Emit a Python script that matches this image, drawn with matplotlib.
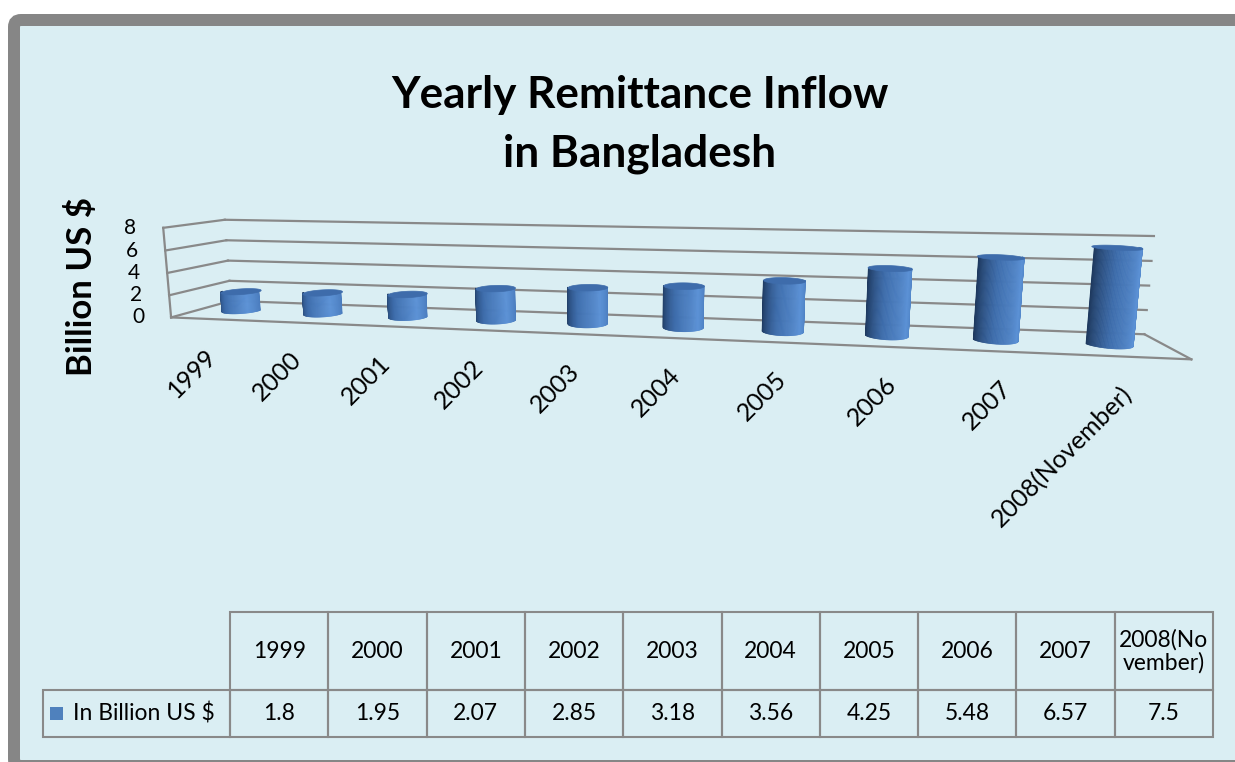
import numpy as np
import matplotlib
matplotlib.use("Agg")
import matplotlib.pyplot as plt
from matplotlib import transforms
from matplotlib.patches import FancyBboxPatch, Rectangle
from matplotlib.colors import LinearSegmentedColormap
from matplotlib.table import Table
from mpl_toolkits.mplot3d.art3d import Poly3DCollection

# ---------------- data ----------------
years = ["1999", "2000", "2001", "2002", "2003", "2004", "2005", "2006",
         "2007", "2008(November)"]
table_headers = ["1999", "2000", "2001", "2002", "2003", "2004", "2005",
                 "2006", "2007", "2008(No\nvember)"]
remittance = [1.8, 1.95, 2.07, 2.85, 3.18, 3.56, 4.25, 5.48, 6.57, 7.5]
value_labels = ["1.8", "1.95", "2.07", "2.85", "3.18", "3.56", "4.25",
                "5.48", "6.57", "7.5"]
z_ticks = [0, 2, 4, 6, 8]
series_name = "In Billion US $"
title_lines = ["Yearly Remittance Inflow", "in Bangladesh"]
axis_title = "Billion US $"

# ---------------- style ----------------
FONT = ["Lato", "DejaVu Sans"]
plt.rcParams["font.family"] = FONT
BG = "#DAEEF3"
FRAME = "#868686"
GRID = "#898989"
BLUE = "#4F81BD"
TOP_BLUE = "#3e6cab"

W, H = 1235, 762
fig = plt.figure(figsize=(W / 100, H / 100), dpi=100)
fig.patch.set_facecolor("white")

# background canvas in pixel units
bg = fig.add_axes([0, 0, 1, 1])
bg.set_xlim(0, W)
bg.set_ylim(H, 0)
bg.axis("off")
bg.add_patch(FancyBboxPatch((14, 20), 1400, 746,
                            boxstyle="round,pad=0,rounding_size=7",
                            fc=BG, ec=FRAME, lw=12 * 0.72, clip_on=False,
                            zorder=0))

# title and value-axis title
bg.text(640, 108, title_lines[0], ha="center", va="baseline",
        fontsize=31.8, fontweight="bold", color="black")
bg.text(640, 167, title_lines[1], ha="center", va="baseline",
        fontsize=31.8, fontweight="bold", color="black")
bg.text(82, 287, axis_title, rotation=90, ha="center", va="center",
        fontsize=25, fontweight="bold", color="black")

# ---------------- data table ----------------
tab_left, tab_right = 43, 1213
tab_top, tab_mid, tab_bottom = 612, 690, 737
label_w = 230 - tab_left
col_w = (tab_right - 230) / len(table_headers)
tab = Table(bg, bbox=[tab_left / W, (H - tab_bottom) / H,
                      (tab_right - tab_left) / W, (tab_bottom - tab_top) / H])
tab.set_zorder(3)
hdr_h, row_h = tab_mid - tab_top, tab_bottom - tab_mid
corner = tab.add_cell(0, 0, label_w, hdr_h, text="", facecolor="none",
                      edgecolor=GRID)
corner.visible_edges = ""
for j, h in enumerate(table_headers):
    tab.add_cell(0, j + 1, col_w, hdr_h, text=h, loc="center",
                 facecolor="none", edgecolor=GRID)
lab = tab.add_cell(1, 0, label_w, row_h, text=series_name, loc="left",
                   facecolor="none", edgecolor=GRID)
lab.PAD = 30 / label_w
for j, v in enumerate(value_labels):
    tab.add_cell(1, j + 1, col_w, row_h, text=v, loc="center",
                 facecolor="none", edgecolor=GRID)
tab.auto_set_font_size(False)
tab.set_fontsize(16.5)
for cell in tab.get_celld().values():
    cell.set_linewidth(1.5)
    cell.get_text().set_linespacing(1.1)
bg.add_table(tab)
# legend key in the series-name cell
key = 13
bg.add_patch(Rectangle((tab_left + 7, (tab_mid + tab_bottom) / 2 - key / 2),
                       key, key, fc=BLUE, ec="none", zorder=4))

# ---------------- 3-D cylinder chart ----------------
S = 1250                     # side of the square 3-D axes, pixels
cx, cy = 635, 279            # where the centre of the box lands, pixels
frac = 0.095 / 0.185
ax = fig.add_axes([(cx - frac * S) / W, (H - cy - frac * S) / H, S / W, S / H],
                  projection="3d", computed_zorder=False)
ax.set_facecolor((0, 0, 0, 0))
ELEV, AZIM = 9, -79.6
ZOOM = 0.767
ax.set_proj_type("persp", focal_length=0.1624 * ZOOM)
ax.view_init(elev=ELEV, azim=AZIM, roll=0)
n = len(remittance)
depth = 1.0
ax.set_box_aspect((n, depth, 0.97), zoom=ZOOM)
ax.set_xlim(0, n)
ax.set_ylim(0, depth)
ax.set_zlim(0, z_ticks[-1])
ax.set_axis_off()

# walls, gridlines and floor outline
lw = 1.6
for v in z_ticks:
    ax.plot([0, n], [depth, depth], [v, v], color=GRID, lw=lw, zorder=1)
    ax.plot([0, 0], [0, depth], [v, v], color=GRID, lw=lw, zorder=1)
ax.plot([0, 0], [0, 0], [0, z_ticks[-1]], color=GRID, lw=lw, zorder=1)
ax.plot([0, n], [0, 0], [0, 0], color=GRID, lw=lw, zorder=1)
ax.plot([n, n], [0, depth], [0, 0], color=GRID, lw=lw, zorder=1)

# cylinders: front half of the side with a shaded gradient, flat top
cyl_cmap = LinearSegmentedColormap.from_list(
    "cyl", [(0.0, "#1d375b"), (0.35, "#3d6cab"), (0.72, "#5c92d6"),
            (1.0, "#4a7cbd")])
nseg = 60
theta = np.deg2rad(np.linspace(AZIM - 90, AZIM + 90, nseg + 1))
side_cols = cyl_cmap((np.arange(nseg) + 0.5) / nseg)
phi = np.linspace(0, 2 * np.pi, 90)
radius = 0.205
for i, v in enumerate(remittance):
    xc, yc = i + 0.5, depth / 2
    xs = xc + radius * np.cos(theta)
    ys = yc + radius * np.sin(theta)
    quads = [[(xs[k], ys[k], 0), (xs[k + 1], ys[k + 1], 0),
              (xs[k + 1], ys[k + 1], v), (xs[k], ys[k], v)]
             for k in range(nseg)]
    ax.add_collection3d(Poly3DCollection(quads, facecolors=side_cols,
                                         edgecolors=side_cols,
                                         linewidths=0.5, zorder=3))
    top = [list(zip(xc + radius * np.cos(phi), yc + radius * np.sin(phi),
                    np.full_like(phi, v)))]
    ax.add_collection3d(Poly3DCollection(top, facecolors=TOP_BLUE,
                                         edgecolors=TOP_BLUE,
                                         linewidths=0.5, zorder=4))

ax.set_xlim(0, n)
ax.set_ylim(0, depth)
ax.set_zlim(0, z_ticks[-1])

# labels placed at projected 3-D positions
M = ax.get_proj()


def project(x, y, z):
    p = M @ np.array([x, y, z, 1.0])
    return p[0] / p[3], p[1] / p[3]


def shifted(dx, dy):
    return transforms.offset_copy(ax.transData, fig=fig, x=dx, y=dy,
                                  units="dots")


for v in z_ticks:
    px, py = project(0, 0, v)
    ax.text2D(px, py, str(v), transform=shifted(-27, 0), ha="right",
              va="center", fontsize=15, color="black")

for i, yr in enumerate(years):
    px, py = project(i + 0.5, 0, 0)
    ax.text2D(px, py, yr, transform=shifted(-8, -25), ha="right", va="top",
              rotation=45, rotation_mode="anchor", fontsize=18,
              color="black")

fig.savefig("out.png", dpi=100, facecolor="white")
